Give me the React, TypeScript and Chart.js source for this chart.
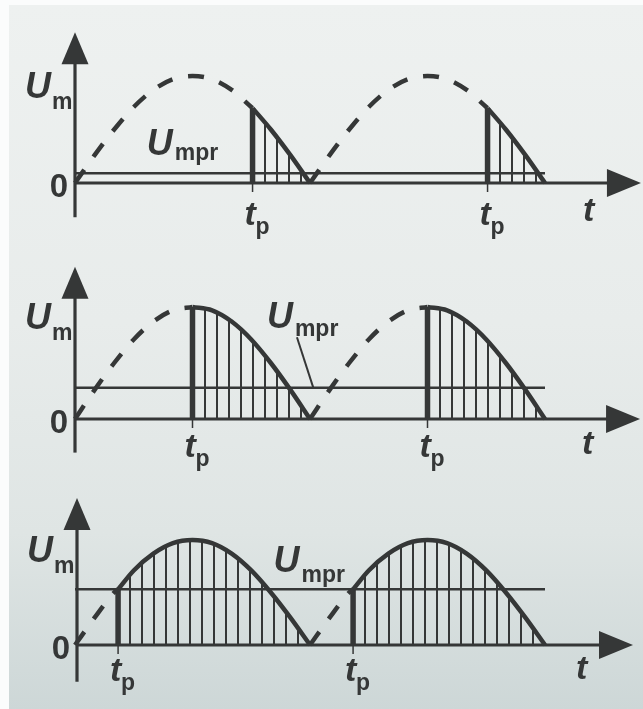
import React, { useEffect, useRef } from 'react';
import { Chart, registerables } from 'chart.js';

Chart.register(...registerables);

// ---- data (phase in electrical degrees, level as a fraction of U_m) ----
const phaseDeg = [0, 15, 30, 45, 60, 75, 90, 105, 120, 135, 150, 165, 180];
const waveLevel = [0, 0.26, 0.5, 0.71, 0.87, 0.97, 1, 0.97, 0.87, 0.71, 0.5, 0.26, 0];
const halfWaveStart = [0, 180];

// one entry per diagram (top, middle, bottom)
const firingPhase = [136, 90, 33]; // t_p
const firingLevel = [0.7, 1, 0.53]; // curve level at t_p
const thresholdLevel = [0.09, 0.28, 0.53]; // U_mpr
const thresholdSpan = [0, 360];

const labelUm = ['U', 'm'];
const labelUmpr = ['U', 'mpr'];
const labelTp = ['t', 'p'];
const labelT = 't';
const labelZero = '0';

// ---- layout / style ----
const INK = '#353737';
const FONT = '"Liberation Sans", Arial, sans-serif';
const PX_PER_DEG = 235 / 180;

const PANELS = [
  { top: 0, height: 240, padTop: 76, padBottom: 57, axisShift: 0, axisTop: 1.41, axisBottom: -0.32, xEnd: 433.5,
    umpr: { phase: 55, level: 0.26, sub: 5 }, leader: null as null | number[][], tLeft: 583, tBase: 38, tpBase: 42 },
  { top: 240, height: 240, padTop: 67, padBottom: 61, axisShift: 0, axisTop: 1.36, axisBottom: -0.3, xEnd: 432.8,
    umpr: { phase: 147, level: 0.81, sub: 8 }, leader: [[170, 0.73], [182.5, 0.28]], tLeft: 582, tBase: 35, tpBase: 38 },
  { top: 480, height: 229, padTop: 60, padBottom: 64, axisShift: 2, axisTop: 1.4, axisBottom: -0.35, xEnd: 427.4,
    umpr: { phase: 152, level: 0.7, sub: 10 }, leader: null, tLeft: 576, tBase: 34, tpBase: 36 },
];

function makeHatch(ctx: CanvasRenderingContext2D, offsetPx: number) {
  const c = document.createElement('canvas');
  c.width = 12;
  c.height = 4;
  const g = c.getContext('2d')!;
  g.fillStyle = INK;
  g.fillRect(0, 0, 2, 4);
  const p = ctx.createPattern(c, 'repeat')!;
  p.setTransform(new DOMMatrix([1, 0, 0, 1, Math.round(offsetPx) - 1, 0]));
  return p;
}

function buildDatasets(i: number) {
  const ds: any[] = [];
  const fp = firingPhase[i];
  const fl = firingLevel[i];
  for (const start of halfWaveStart) {
    const dashed: { x: number; y: number }[] = [];
    const solid: { x: number; y: number }[] = [{ x: start + fp, y: fl }];
    phaseDeg.forEach((p, k) => {
      if (p < fp) dashed.push({ x: start + p, y: waveLevel[k] });
      else if (p > fp) solid.push({ x: start + p, y: waveLevel[k] });
    });
    dashed.push({ x: start + fp, y: fl });
    ds.push({
      data: dashed,
      borderColor: INK,
      borderWidth: 4.5,
      borderDash: [16, 16],
      cubicInterpolationMode: 'monotone',
      pointRadius: 0,
      fill: false,
      clip: false,
    });
    const firingX = start + fp;
    ds.push({
      data: solid,
      borderColor: INK,
      borderWidth: 4.5,
      cubicInterpolationMode: 'monotone',
      pointRadius: 0,
      fill: 'origin',
      backgroundColor: (c: any) => {
        const chart = c.chart;
        const xs = chart.scales && chart.scales.x;
        if (!xs || !chart.chartArea) return 'rgba(0,0,0,0)';
        return makeHatch(chart.ctx, xs.getPixelForValue(firingX));
      },
      clip: false,
    });
    ds.push({
      data: [
        { x: firingX, y: 0 },
        { x: firingX, y: fl },
      ],
      borderColor: INK,
      borderWidth: 5.5,
      tension: 0,
      pointRadius: 0,
      fill: false,
      clip: false,
    });
  }
  ds.push({
    data: thresholdSpan.map((x) => ({ x, y: thresholdLevel[i] })),
    borderColor: INK,
    borderWidth: 2.5,
    tension: 0,
    pointRadius: 0,
    fill: false,
    clip: false,
  });
  return ds;
}

function text(ctx: CanvasRenderingContext2D, s: string, x: number, y: number, font: string, align: CanvasTextAlign = 'left') {
  ctx.font = font;
  ctx.textAlign = align;
  ctx.textBaseline = 'alphabetic';
  ctx.fillStyle = INK;
  ctx.fillText(s, x, y);
}

function makePlugin(i: number) {
  const cfg = PANELS[i];
  return {
    id: 'diagram' + i,
    beforeDatasetsDraw(chart: any) {
      const ctx: CanvasRenderingContext2D = chart.ctx;
      const xs = chart.scales.x;
      const ys = chart.scales.y;
      const ax = chart.chartArea.left + cfg.axisShift;
      const y0 = ys.getPixelForValue(0);
      const yTip = ys.getPixelForValue(cfg.axisTop);
      const yBot = ys.getPixelForValue(cfg.axisBottom);
      const xTip = xs.getPixelForValue(cfg.xEnd);
      ctx.save();
      ctx.strokeStyle = INK;
      ctx.fillStyle = INK;
      ctx.lineWidth = 3.2;
      // y axis
      ctx.beginPath();
      ctx.moveTo(ax, yBot);
      ctx.lineTo(ax, yTip + 28);
      ctx.stroke();
      ctx.beginPath();
      ctx.moveTo(ax, yTip);
      ctx.lineTo(ax - 13.5, yTip + 32);
      ctx.lineTo(ax + 13.5, yTip + 32);
      ctx.closePath();
      ctx.fill();
      // x axis
      ctx.beginPath();
      ctx.moveTo(ax, y0);
      ctx.lineTo(xTip - 30, y0);
      ctx.stroke();
      ctx.beginPath();
      ctx.moveTo(xTip, y0);
      ctx.lineTo(xTip - 34, y0 - 14);
      ctx.lineTo(xTip - 34, y0 + 14);
      ctx.closePath();
      ctx.fill();
      // t_p ticks
      ctx.lineWidth = 1.5;
      for (const s of halfWaveStart) {
        const fx = xs.getPixelForValue(s + firingPhase[i]);
        ctx.beginPath();
        ctx.moveTo(fx, y0);
        ctx.lineTo(fx, y0 + 9);
        ctx.stroke();
      }
      // leader line for U_mpr
      if (cfg.leader) {
        ctx.lineWidth = 2;
        ctx.beginPath();
        ctx.moveTo(xs.getPixelForValue(cfg.leader[0][0]), ys.getPixelForValue(cfg.leader[0][1]));
        ctx.lineTo(xs.getPixelForValue(cfg.leader[1][0]), ys.getPixelForValue(cfg.leader[1][1]));
        ctx.stroke();
      }
      ctx.restore();
    },
    afterDatasetsDraw(chart: any) {
      const ctx: CanvasRenderingContext2D = chart.ctx;
      const xs = chart.scales.x;
      const ys = chart.scales.y;
      const y0 = ys.getPixelForValue(0);
      const y1 = ys.getPixelForValue(1);
      const big = `italic bold 36px ${FONT}`;
      const sub = `bold 23px ${FONT}`;
      ctx.save();
      // U_m
      text(ctx, labelUm[0], 25 + cfg.axisShift, y1 + 22, big);
      text(ctx, labelUm[1], 52 + cfg.axisShift, y1 + 33, sub);
      // 0
      text(ctx, labelZero, 68 + cfg.axisShift, y0 + 14, `bold 33px ${FONT}`, 'right');
      // U_mpr
      const ux = xs.getPixelForValue(cfg.umpr.phase);
      const uy = ys.getPixelForValue(cfg.umpr.level);
      text(ctx, labelUmpr[0], ux, uy, big);
      text(ctx, labelUmpr[1], ux + 28, uy + cfg.umpr.sub, sub);
      // t_p
      for (const s of halfWaveStart) {
        const fx = xs.getPixelForValue(s + firingPhase[i]);
        text(ctx, labelTp[0], fx - 8, y0 + cfg.tpBase, `italic bold 34px ${FONT}`);
        text(ctx, labelTp[1], fx + 3, y0 + cfg.tpBase + 9, sub);
      }
      // t
      text(ctx, labelT, cfg.tLeft, y0 + cfg.tBase, `italic bold 34px ${FONT}`);
      ctx.restore();
    },
  };
}

function Panel({ index }: { index: number }) {
  const ref = useRef<HTMLCanvasElement | null>(null);
  const cfg = PANELS[index];
  useEffect(() => {
    if (!ref.current) return;
    const chart = new Chart(ref.current, {
      type: 'line',
      data: { datasets: buildDatasets(index) },
      options: {
        responsive: false,
        animation: false,
        devicePixelRatio: 1,
        events: [],
        layout: { padding: { left: 75, right: 2, top: cfg.padTop, bottom: cfg.padBottom } },
        scales: {
          x: { type: 'linear', min: 0, max: 566 / PX_PER_DEG, display: false },
          y: { type: 'linear', min: 0, max: 1, display: false },
        },
        plugins: { legend: { display: false }, tooltip: { enabled: false } },
      } as any,
      plugins: [makePlugin(index)],
    });
    return () => chart.destroy();
  }, [index]);
  return (
    <canvas
      ref={ref}
      width={643}
      height={cfg.height}
      style={{ position: 'absolute', left: 0, top: cfg.top, width: 643, height: cfg.height }}
    />
  );
}

export default function App() {
  return (
    <div style={{ position: 'fixed', left: 0, top: 0, width: 643, height: 709, background: '#fbfcfc', overflow: 'hidden' }}>
      <div
        style={{
          position: 'absolute',
          left: 9,
          top: 5,
          right: 0,
          bottom: 0,
          background: 'linear-gradient(180deg, #eef1f0 0%, #e8eceb 45%, #dfe5e4 75%, #cdd7d7 100%)',
        }}
      />
      {PANELS.map((_, i) => (
        <Panel key={i} index={i} />
      ))}
    </div>
  );
}
